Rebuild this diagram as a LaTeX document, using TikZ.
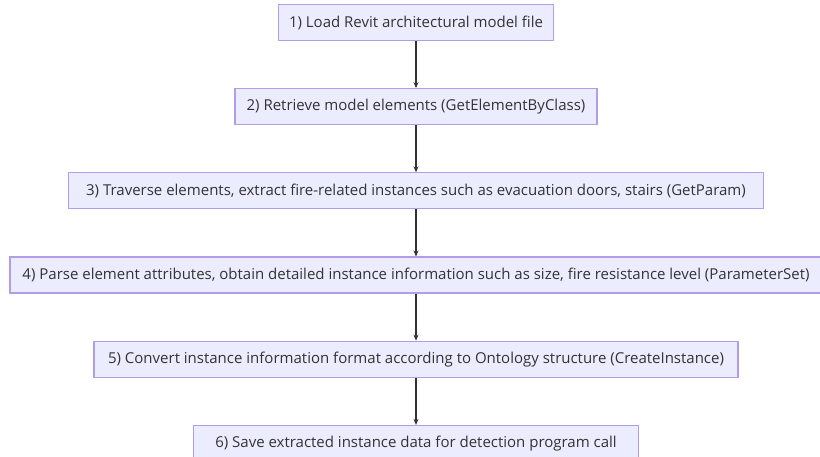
\documentclass[tikz,border=0pt]{standalone}
\usepackage{fontspec}
\setmainfont{Open Sans}
\usetikzlibrary{positioning,arrows.meta}

\definecolor{stepfill}{HTML}{ECECFF}
\definecolor{stepline}{HTML}{B39DE8}
\definecolor{steptext}{HTML}{333333}

\tikzset{
  stepbox/.style={draw=stepline, fill=stepfill, text=steptext, line width=1.2pt,
    minimum height=36pt, inner xsep=0pt, font=\fontsize{15}{17}\selectfont},
  flow/.style={-{Stealth[length=6pt,width=5pt]}, draw=steptext, line width=1.6pt}
}

\begin{document}
\begin{tikzpicture}[x=1pt,y=1pt,node distance=47pt]
   \useasboundingbox[fill=white] (0,0) rectangle (820,-457);

   \node[stepbox, minimum width=275pt] (load) at (416,-22.5)
     {1) Load Revit architectural model file};
   \node[stepbox, minimum width=362pt, below=of load] (retrieve)
     {2) Retrieve model elements (GetElementByClass)};
   \node[stepbox, minimum width=695pt, below=of retrieve] (traverse)
     {3) Traverse elements, extract fire-related instances such as evacuation doors, stairs (GetParam)};
   \node[stepbox, minimum width=812pt, below=of traverse] (parse)
     {4) Parse element attributes, obtain detailed instance information such as size, fire resistance level (ParameterSet)};
   \node[stepbox, minimum width=644pt, below=of parse] (convert)
     {5) Convert instance information format according to Ontology structure (CreateInstance)};
   \node[stepbox, minimum width=445pt, below=of convert] (save)
     {6) Save extracted instance data for detection program call};

   \draw[flow] (load) -- (retrieve);
   \draw[flow] (retrieve) -- (traverse);
   \draw[flow] (traverse) -- (parse);
   \draw[flow] (parse) -- (convert);
   \draw[flow] (convert) -- (save);

 \end{tikzpicture}
\end{document}
